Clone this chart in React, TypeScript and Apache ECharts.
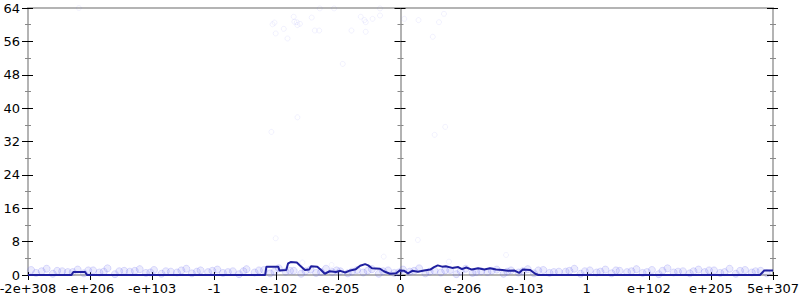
import React, { useEffect, useRef } from "react";
import * as echarts from "echarts";

const xTickLabels = ["-2e+308", "-e+206", "-e+103", "-1", "-e-102", "-e-205", "0", "e-206", "e-103", "1", "e+102", "e+205", "5e+307"];
const yTicks = [0, 8, 16, 24, 32, 40, 48, 56, 64];

// histogram line: [x position in tick units, count]
const lineX = [-6, -5.3, -5.27, -5.08, -5.05, -2.18, -2.16, -1.97, -1.95, -1.84, -1.81, -1.77, -1.67, -1.62, -1.54, -1.47, -1.44, -1.34, -1.28, -1.22, -1.14, -1.04, -0.97, -0.89, -0.81, -0.72, -0.65, -0.57, -0.52, -0.46, -0.33, -0.27, -0.17, -0.07, -0.01, 0.06, 0.12, 0.19, 0.28, 0.38, 0.48, 0.54, 0.6, 0.67, 0.73, 0.83, 0.93, 0.99, 1.06, 1.15, 1.25, 1.35, 1.44, 1.54, 1.64, 1.73, 1.83, 1.91, 1.97, 2.09, 2.17, 2.22, 5.79, 5.86, 6];
const lineY = [0, 0, 0.7, 0.7, 0, 0, 2.0, 2.0, 1.1, 1.2, 2.8, 3.1, 3.0, 2.3, 1.2, 1.3, 2.1, 2.0, 1.2, 0.3, 0.9, 0.7, 1.0, 0.6, 1.1, 1.4, 2.2, 2.6, 2.3, 1.6, 1.5, 0.9, 0.3, 0.4, 1.1, 1.0, 0.4, 1.0, 0.8, 1.1, 1.3, 1.9, 2.3, 2.0, 2.1, 1.7, 1.9, 1.4, 1.8, 1.3, 1.6, 1.3, 1.6, 1.3, 1.2, 1.0, 1.1, 0.5, 1.3, 1.2, 0.3, 0, 0, 1.1, 1.1];

// sparse scatter points
const sparseX = [-5.18, -2.06, -2.03, -2.01, -1.88, -1.82, -1.72, -1.71, -1.67, -1.66, -1.62, -1.43, -1.38, -1.31, -1.3, -1.07, -0.93, -0.79, -0.64, -0.58, -0.56, -0.56, -0.45, -0.33, -0.33, 0.06, 0.29, 0.52, 0.62, 0.7, -1.66, -2.08, 0.72, 0.55, -2.01, -1.58, -1.11, -0.27, 0.28, 0.78, 1.7];
const sparseY = [64, 60.1, 60.5, 57.9, 59.0, 56.7, 61.9, 60.7, 60.6, 59.9, 60.2, 61.7, 58.6, 58.6, 63.9, 63.9, 50.6, 58.6, 61.9, 61.1, 60.6, 58.3, 61.4, 62.2, 63.9, 61.4, 61.1, 57.1, 60.6, 62.6, 37.8, 34.3, 35.5, 33.6, 8.8, 3.0, 2.4, 4.4, 8.4, 3.2, 4.8];

// dense band of scatter points near the bottom
const bandAX = [-5.95, -5.7, -5.45, -5.2, -4.95, -4.72, -4.45, -4.2, -3.97, -3.7, -3.45, -3.22, -2.95, -2.7, -2.48, -2.2, -1.96, -1.72, -1.45, -1.2, -0.97, -0.7, -0.46, -0.2, 0.04, 0.3, 0.55, 0.8, 1.05, 1.3, 1.55, 1.78, 2.05, 2.3, 2.55, 2.8, 3.05, 3.3, 3.53, 3.8, 4.05, 4.3, 4.55, 4.8, 5.05, 5.3, 5.55, 5.8];
const bandAY = [1.2, 1.5, 0.9, 1.3, 1.1, 1.6, 1.0, 1.4, 1.2, 0.8, 1.5, 1.1, 1.3, 0.9, 1.4, 1.2, 1.6, 1.0, 1.3, 1.5, 0.9, 1.2, 1.4, 1.1, 1.3, 1.6, 1.0, 1.2, 1.5, 0.9, 1.3, 1.1, 1.4, 1.2, 0.8, 1.5, 1.1, 1.3, 1.0, 1.4, 1.2, 1.6, 0.9, 1.3, 1.1, 1.5, 1.2, 1.0];
const bandBX = [-5.87, -5.6, -5.36, -5.1, -4.85, -4.6, -4.36, -4.1, -3.85, -3.6, -3.36, -3.1, -2.86, -2.6, -2.35, -2.1, -1.85, -1.6, -1.36, -1.1, -0.85, -0.6, -0.35, -0.1, 0.15, 0.4, 0.65, 0.9, 1.16, 1.4, 1.66, 1.9, 2.15, 2.4, 2.66, 2.9, 3.16, 3.4, 3.65, 3.9, 4.16, 4.4, 4.66, 4.9, 5.15, 5.4, 5.66, 5.9];
const bandBY = [0.5, 0.3, 0.7, 0.4, 0.6, 0.2, 0.8, 0.5, 0.3, 0.6, 0.4, 0.7, 0.5, 0.2, 0.6, 0.4, 0.8, 0.3, 0.5, 0.7, 0.4, 0.6, 0.3, 0.5, 0.8, 0.4, 0.6, 0.2, 0.5, 0.7, 0.3, 0.6, 0.4, 0.5, 0.8, 0.3, 0.6, 0.4, 0.7, 0.5, 0.2, 0.6, 0.4, 0.7, 0.5, 0.3, 0.6, 0.4];
const bandCX = [-5.78, -5.53, -5.28, -5.03, -4.78, -4.53, -4.28, -4.03, -3.78, -3.53, -3.28, -3.03, -2.78, -2.53, -2.28, -2.03, -1.78, -1.53, -1.28, -1.03, -0.78, -0.53, -0.28, -0.03, 0.22, 0.47, 0.72, 0.97, 1.22, 1.47, 1.72, 1.97, 2.22, 2.47, 2.72, 2.97, 3.22, 3.47, 3.72, 3.97, 4.22, 4.47, 4.72, 4.97, 5.22, 5.47, 5.72];
const bandCY = [0.9, 1.0, 0.7, 1.1, 0.8, 0.9, 1.0, 0.6, 0.9, 1.1, 0.8, 1.0, 0.7, 0.9, 1.1, 0.8, 1.0, 0.9, 0.7, 1.1, 0.8, 1.0, 0.9, 0.6, 1.0, 0.8, 1.1, 0.9, 0.7, 1.0, 0.8, 0.9, 1.1, 0.7, 1.0, 0.9, 0.8, 1.1, 0.9, 0.7, 1.0, 0.8, 0.9, 1.1, 0.7, 1.0, 0.9];

const zip = (xs: number[], ys: number[]) => xs.map((x, i) => [x, ys[i]]);

const FONT = "DejaVu Sans";
const GRAY = "#b4b4b4";

export default function App() {
  const ref = useRef<HTMLDivElement>(null);
  useEffect(() => {
    if (!ref.current) return;
    const chart = echarts.init(ref.current, null, { renderer: "svg" });
    const yBase = {
      type: "value" as const,
      min: 0,
      max: 64,
      interval: 8,
      splitLine: { show: false },
      axisLabel: { show: false },
    };
    const yAxisPair = (pos: "left" | "right", onZero: boolean, lineColor: string, lineWidth: number, labels: boolean) => [
      {
        ...yBase,
        position: pos,
        axisLine: { show: true, onZero, lineStyle: { color: lineColor, width: lineWidth } },
        axisTick: { show: true, inside: pos === "right", length: 6, lineStyle: { color: "#000", width: 1 } },
        minorTick: { show: true, splitNumber: 2, length: 3, lineStyle: { color: "#888", width: 1 } },
        axisLabel: labels
          ? { show: true, margin: 8, fontFamily: FONT, fontSize: 13, color: "#000", formatter: (v: number) => (yTicks.includes(v) ? String(v) : "") }
          : { show: false },
      },
      {
        ...yBase,
        position: pos,
        axisLine: { show: false, onZero },
        axisTick: { show: true, inside: pos !== "right", length: 5, lineStyle: { color: "#000", width: 1 } },
        minorTick: { show: true, splitNumber: 2, length: 3, lineStyle: { color: "#888", width: 1 } },
      },
    ];
    const xBase = {
      type: "value" as const,
      min: -6,
      max: 6,
      interval: 1,
      splitLine: { show: false },
    };
    chart.setOption({
      animation: false,
      backgroundColor: "#fff",
      grid: { left: 28, right: 27, top: 8, bottom: 25, containLabel: false, outerBoundsMode: "none" },
      xAxis: [
        {
          ...xBase,
          position: "bottom",
          axisLine: { show: true, onZero: false, lineStyle: { color: GRAY, width: 2 } },
          axisTick: { show: true, length: 5, lineStyle: { color: "#000", width: 1 } },
          axisLabel: {
            show: true,
            margin: 7,
            fontFamily: FONT,
            fontSize: 13,
            color: "#000",
            formatter: (v: number) => xTickLabels[Math.round(v) + 6] ?? "",
          },
        },
        {
          ...xBase,
          position: "bottom",
          axisLine: { show: false, onZero: false },
          axisTick: { show: true, inside: true, length: 3, lineStyle: { color: "#000", width: 1 } },
          axisLabel: { show: false },
        },
        {
          ...xBase,
          position: "top",
          axisLine: { show: true, onZero: false, lineStyle: { color: GRAY, width: 2 } },
          axisTick: { show: false },
          axisLabel: { show: false },
        },
      ],
      yAxis: [
        ...yAxisPair("left", false, GRAY, 2, true),
        ...yAxisPair("left", true, "#999", 1.5, false),
        ...yAxisPair("right", false, GRAY, 2, false),
      ],
      series: [
        {
          type: "scatter",
          data: [...zip(bandAX, bandAY), ...zip(bandBX, bandBY), ...zip(bandCX, bandCY)],
          symbol: "circle",
          symbolSize: 7,
          itemStyle: { color: "rgba(100,100,240,0.16)", borderColor: "rgba(100,100,240,0.26)", borderWidth: 1 },
          silent: true,
          z: 2,
        },
        {
          type: "scatter",
          data: zip(sparseX, sparseY),
          symbol: "circle",
          symbolSize: 5,
          itemStyle: { color: "rgba(0,0,0,0)", borderColor: "rgba(120,120,240,0.12)", borderWidth: 1 },
          silent: true,
          z: 2,
        },
        {
          type: "line",
          data: zip(lineX, lineY),
          showSymbol: false,
          symbol: "none",
          lineStyle: { color: "#1f1f9f", width: 2 },
          z: 5,
        },
      ],
    });
    return () => chart.dispose();
  }, []);
  return <div ref={ref} style={{ position: "fixed", left: 0, top: 0, width: 800, height: 300 }} />;
}
